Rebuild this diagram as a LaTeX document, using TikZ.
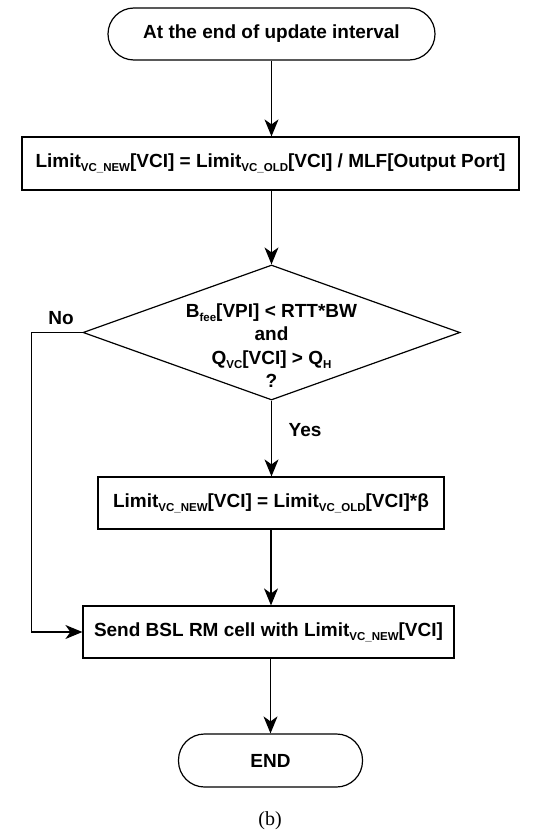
\documentclass[tikz,border=0pt]{standalone}
\usepackage{fontspec}
\setmainfont{Liberation Sans}
\newfontfamily\captionfont{Liberation Serif}
\usetikzlibrary{arrows.meta, shapes.geometric}
\newcommand{\lsub}[1]{\raisebox{-0.4ex}{\fontsize{11.5}{11.5}\selectfont #1}}

\begin{document}
\begin{tikzpicture}[
  x=1pt, y=-1pt,
  line width=1.2pt,
  arrow/.style={-{Stealth[length=17pt, width=14pt, inset=5pt]}},
  block/.style={draw, rectangle, inner sep=0pt, align=center, font=\fontsize{19}{23.3}\selectfont\bfseries},
  terminal/.style={block, rounded corners=26pt},
  decision/.style={draw, diamond, aspect=2.8, inner sep=0pt},
  branch/.style={font=\fontsize{19}{23.3}\selectfont\bfseries}
]
  \useasboundingbox (0,0) rectangle (551,832);

  % START AND FIRST UPDATE
  \node (start) [terminal, minimum width=327pt, minimum height=52pt] at (271.5,34) {At the end of update interval};
  \node (upd) [block, minimum width=497pt, minimum height=53pt] at (270.5,163.5) {Limit\lsub{VC\_NEW}[VCI] = Limit\lsub{VC\_OLD}[VCI] / MLF[Output Port]};
  \draw[arrow] (start.south) -- (start.south |- upd.north);

  % CONDITION CHECK
  \node (chk) [decision, minimum width=377pt, minimum height=135pt] at (271.5,332.5) {};
  \node (chktxt) [branch, align=center] at ([yshift=-13pt]chk.center) {B\lsub{fee}[VPI] < RTT*BW\\ and\\ Q\lsub{VC}[VCI] > Q\lsub{H}\\ ?};
  \draw[arrow] (upd.south -| chk.north) -- (chk.north);

  % YES BRANCH
  \node (mul) [block, minimum width=346pt, minimum height=52pt] at (271,503) {Limit\lsub{VC\_NEW}[VCI] = Limit\lsub{VC\_OLD}[VCI]*β};
  \draw[arrow] (chk.south) -- (chk.south |- mul.north);
  \node (yes) [branch] at (305,430) {Yes};

  % SEND AND END
  \node (send) [block, minimum width=371pt, minimum height=52pt] at (268.5,632) {Send BSL RM cell with Limit\lsub{VC\_NEW}[VCI]};
  \draw[arrow] (mul.south) -- (mul.south |- send.north);
  \node (stop) [terminal, minimum width=184pt, minimum height=53pt] at (270.5,760.5) {END};
  \draw[arrow] (send.south -| stop.north) -- (stop.north);

  % NO BRANCH
  \draw[arrow] (chk.west) -- ++(-51,0) |- (send.west);
  \node (no) [branch] at (61,318) {No};

  \node (cap) [font=\captionfont\fontsize{20}{23}\selectfont] at (270,821) {(b)};

\end{tikzpicture}
\end{document}
